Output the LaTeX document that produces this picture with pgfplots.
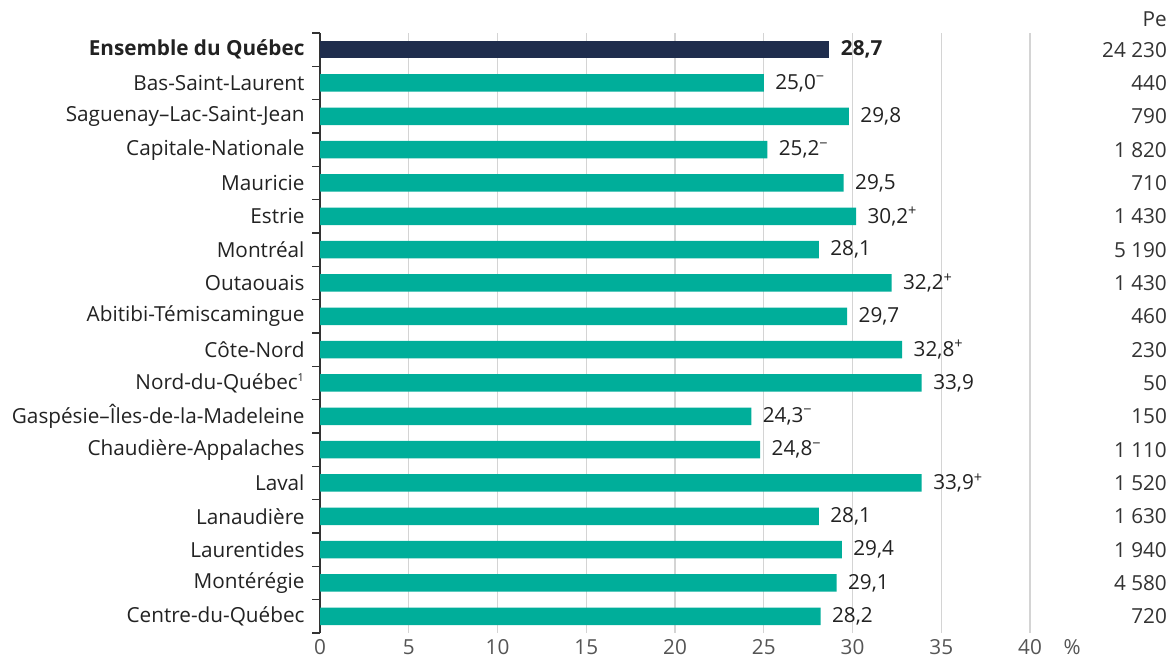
\documentclass[border=0pt]{standalone}
\usepackage{fontspec}
\setmainfont{Open Sans}
\usepackage{pgfplots}
\pgfplotsset{compat=1.18}
\definecolor{qteal}{HTML}{00AE9A}
\definecolor{qnavy}{HTML}{1F2D4D}
\definecolor{qgrid}{HTML}{D4D4D4}
\definecolor{qtext}{HTML}{222222}
\definecolor{qtick}{HTML}{555555}
\newcommand{\lf}{\fontsize{20.8}{25}\selectfont}
\begin{document}
\begin{tikzpicture}[x=1bp,y=1bp]
\path[use as bounding box] (0,0) rectangle (1172,661);
\begin{axis}[
  at={(320bp,28bp)}, anchor=south west,
  scale only axis, width=710bp, height=600bp,
  xmin=0, xmax=40, ymin=-0.5, ymax=17.5,
  clip=false,
  /pgf/number format/assume math mode=true,
  axis y line*=left, axis x line*=bottom,
  x axis line style={draw=none},
  y axis line style={line width=1.5bp, color=black!80},
  xtick={0,5,...,40},
  ytick={0,...,17},
  yticklabels={Centre-du-Québec,Montérégie,Laurentides,Lanaudière,Laval,Chaudière-Appalaches,Gaspésie–Îles-de-la-Madeleine,Nord-du-Québec\textsuperscript{\fontsize{11}{12}\selectfont 1},Côte-Nord,Abitibi-Témiscamingue,Outaouais,Montréal,Estrie,Mauricie,Capitale-Nationale,Saguenay–Lac-Saint-Jean,Bas-Saint-Laurent,\textbf{Ensemble du Québec}},
  minor ytick={-0.5,0.5,...,17.5},
  major tick length=0pt, minor tick length=8bp, tick align=outside,
  minor tick style={line width=1.5bp, color=black!80},
  xmajorgrids, major grid style={qgrid, line width=1.2bp},
  yticklabel style={font=\lf, text=qtext, xshift=-12bp},
  xticklabel style={font=\lf, text=qtick, yshift=-3bp},
  nodes near coords,
  point meta=explicit symbolic,
  every node near coord/.append style={font=\lf, text=qtext, anchor=west, xshift=8bp},
]
\addplot[xbar, bar width=17.5bp, bar shift=0pt, fill=qnavy, draw=none]
  coordinates {(28.7,17) [\textbf{28,7}]};
\addplot[xbar, bar width=17.5bp, bar shift=0pt, fill=qteal, draw=none]
  coordinates {
  (25.0,16) [25,0\textsuperscript{−}]
  (29.8,15) [29,8]
  (25.2,14) [25,2\textsuperscript{−}]
  (29.5,13) [29,5]
  (30.2,12) [30,2\textsuperscript{+}]
  (28.1,11) [28,1]
  (32.2,10) [32,2\textsuperscript{+}]
  (29.7,9) [29,7]
  (32.8,8) [32,8\textsuperscript{+}]
  (33.9,7) [33,9]
  (24.3,6) [24,3\textsuperscript{−}]
  (24.8,5) [24,8\textsuperscript{−}]
  (33.9,4) [33,9\textsuperscript{+}]
  (28.1,3) [28,1]
  (29.4,2) [29,4]
  (29.1,1) [29,1]
  (28.2,0) [28,2]
  };
\addplot[only marks, mark=*, mark options={draw=none, fill=none}, mark size=0pt,
  every node near coord/.append style={anchor=east, xshift=-8bp, inner sep=0pt, text=black!80}]
  coordinates {
  (47.72,17) [24~230]
  (47.72,16) [440]
  (47.72,15) [790]
  (47.72,14) [1~820]
  (47.72,13) [710]
  (47.72,12) [1~430]
  (47.72,11) [5~190]
  (47.72,10) [1~430]
  (47.72,9) [460]
  (47.72,8) [230]
  (47.72,7) [50]
  (47.72,6) [150]
  (47.72,5) [1~110]
  (47.72,4) [1~520]
  (47.72,3) [1~630]
  (47.72,2) [1~940]
  (47.72,1) [4~580]
  (47.72,0) [720]
  };
\node[anchor=east, inner sep=0pt, font=\lf, text=black!80] at (axis cs:47.72,17.9) {Pe};
\node[anchor=north, font=\lf, text=qtick, yshift=-3bp] at (axis cs:42.37,-0.5) {\%};
\end{axis}
\end{tikzpicture}
\end{document}
